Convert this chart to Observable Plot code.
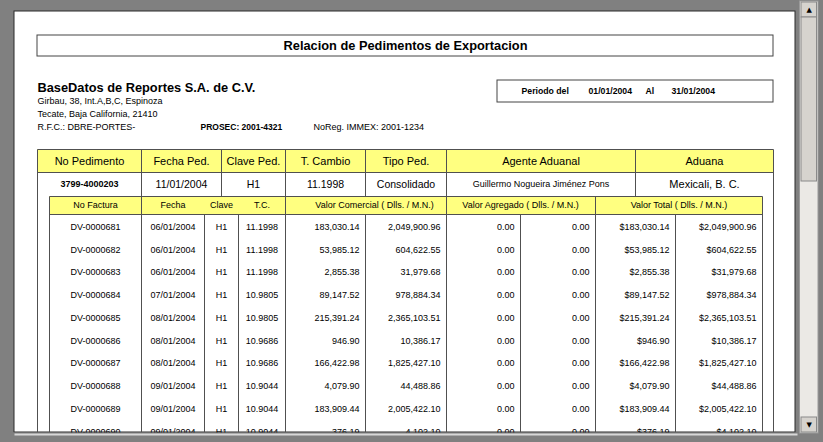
<!DOCTYPE html>
<html><head><meta charset="utf-8">
<script src="https://cdn.jsdelivr.net/npm/d3@7"></script>
<script src="https://cdn.jsdelivr.net/npm/@observablehq/plot@0.6"></script>
<style>
html,body{margin:0;padding:0;background:#808080;overflow:hidden}
#chart svg{display:block}
</style></head><body><div id="chart"></div>
<script>
// ---------------- DATA ----------------
const reportTitle = "Relacion de Pedimentos de Exportacion";
const companyName = "BaseDatos de Reportes S.A. de C.V.";
const companyLines = ["Girbau, 38, Int.A,B,C, Espinoza", "Tecate, Baja California, 21410", "R.F.C.: DBRE-PORTES-"];
const prosec = "PROSEC: 2001-4321";
const noReg = "NoReg. IMMEX: 2001-1234";
const periodo = ["Periodo del", "01/01/2004", "Al", "31/01/2004"];
const pedHeaders = ["No Pedimento", "Fecha Ped.", "Clave Ped.", "T. Cambio", "Tipo Ped.", "Agente Aduanal", "Aduana"];
const pedValues = ["3799-4000203", "11/01/2004", "H1", "11.1998", "Consolidado", "Guillermo Nogueira Jiménez Pons", "Mexicali, B. C."];
const facHeaders = ["No Factura", "Fecha", "Clave", "T.C.", "Valor Comercial ( Dlls. / M.N.)", "Valor Agregado ( Dlls. / M.N.)", "Valor Total ( Dlls. / M.N.)"];
const facturas = ["DV-0000681","DV-0000682","DV-0000683","DV-0000684","DV-0000685","DV-0000686","DV-0000687","DV-0000688","DV-0000689","DV-0000690"];
const fechas = ["06/01/2004","06/01/2004","06/01/2004","07/01/2004","08/01/2004","08/01/2004","08/01/2004","09/01/2004","09/01/2004","09/01/2004"];
const claves = ["H1","H1","H1","H1","H1","H1","H1","H1","H1","H1"];
const tiposCambio = [11.1998, 11.1998, 11.1998, 10.9805, 10.9805, 10.9686, 10.9686, 10.9044, 10.9044, 10.9044];
const comercialDlls = [183030.14, 53985.12, 2855.38, 89147.52, 215391.24, 946.90, 166422.98, 4079.90, 183909.44, 376.19];
const comercialMN = [2049900.96, 604622.55, 31979.68, 978884.34, 2365103.51, 10386.17, 1825427.10, 44488.86, 2005422.10, 4102.10];
const agregadoDlls = [0, 0, 0, 0, 0, 0, 0, 0, 0, 0];
const agregadoMN = [0, 0, 0, 0, 0, 0, 0, 0, 0, 0];
const totalDlls = [183030.14, 53985.12, 2855.38, 89147.52, 215391.24, 946.90, 166422.98, 4079.90, 183909.44, 376.19];
const totalMN = [2049900.96, 604622.55, 31979.68, 978884.34, 2365103.51, 10386.17, 1825427.10, 44488.86, 2005422.10, 4102.10];

// ---------------- LAYOUT ----------------
const W = 823, H = 442;
const FONT = "'Liberation Sans', Arial, sans-serif";
const page = {x1: 14, x2: 795, y1: 11, y2: 432};
const titleBox = {x1: 37, x2: 773, y1: 35, y2: 56};
const periodBox = {x1: 497, x2: 773, y1: 80, y2: 102};
const periodX = [521, 588, 645, 671];
const companyY = 87, infoY0 = 101, infoDy = 13;
const prosecX = 200, noRegX = 313;
const pedCols = [37, 141, 221, 285, 365, 446, 635, 773];
const pedRows = [149, 172, 196];
const pedValueSize = [9, 10.5, 10.5, 10.5, 10.5, 9, 11];
const facCols = [49, 141, 204, 238, 285, 365, 446, 520, 595, 675, 762];
const facHeadCx = [95, 172.5, 221, 261.5, 374, 520, 678.5];
const facHead = {y1: 196, y2: 214};
const rowTop = 215, rowH = 22.75;
const LINE = "#505050";
const yellow = "#ffff80";

const fmt = d3.format(",.2f");
const rowY = i => rowTop + rowH * (i + 0.5);

// line segments
const segs = [];
const V = (x, y1, y2) => segs.push({x1: x, x2: x, y1, y2});
const Hs = (y, x1, x2) => segs.push({x1, x2, y1: y, y2: y});
[pedCols[0], pedCols[pedCols.length - 1]].forEach(x => V(x, pedRows[0], page.y2));
pedCols.slice(1, -1).forEach(x => V(x, pedRows[0], pedRows[2]));
pedRows.slice(0, 2).forEach(y => Hs(y, pedCols[0], pedCols[pedCols.length - 1]));
[facHead.y1, facHead.y2].forEach(y => Hs(y, facCols[0], facCols[facCols.length - 1]));
[0, 1, 4, 6, 8, 10].forEach(k => V(facCols[k], facHead.y1, page.y2));
[2, 3, 5, 7, 9].forEach(k => V(facCols[k], facHead.y2, page.y2));

// invoice cells
const idx = d3.range(facturas.length);
const centerCols = [
  {c: 0, v: i => facturas[i]},
  {c: 1, v: i => fechas[i]},
  {c: 2, v: i => claves[i]},
  {c: 3, v: i => tiposCambio[i].toFixed(4)}
];
const rightCols = [
  {c: 4, v: i => fmt(comercialDlls[i])},
  {c: 5, v: i => fmt(comercialMN[i])},
  {c: 6, v: i => fmt(agregadoDlls[i])},
  {c: 7, v: i => fmt(agregadoMN[i])},
  {c: 8, v: i => "$" + fmt(totalDlls[i])},
  {c: 9, v: i => "$" + fmt(totalMN[i])}
];
const centerCells = centerCols.flatMap(col => idx.map(i => ({x: (facCols[col.c] + facCols[col.c + 1]) / 2, y: rowY(i), t: col.v(i)})));
const rightCells = rightCols.flatMap(col => idx.map(i => ({x: facCols[col.c + 1] - 6, y: rowY(i), t: col.v(i)})));

const one = [0];
const txt = (data, o) => Plot.text(data, {fontFamily: FONT, fill: "#000", ...o});

const chart = Plot.plot({
  width: W, height: H, margin: 0,
  x: {domain: [0, W], range: [0, W], axis: null},
  y: {domain: [0, H], range: [0, H], axis: null},
  style: {background: "#808080", fontFamily: FONT},
  marks: [
    // page
    Plot.rect(one, {x1: () => page.x1, x2: () => page.x2, y1: () => page.y1, y2: () => page.y2, fill: "#fff", stroke: "#2a2a2a", strokeWidth: 1}),
    // title box
    Plot.rect(one, {x1: () => titleBox.x1, x2: () => titleBox.x2, y1: () => titleBox.y1, y2: () => titleBox.y2, fill: "none", stroke: "#444"}),
    txt([reportTitle], {x: () => (titleBox.x1 + titleBox.x2) / 2, y: () => (titleBox.y1 + titleBox.y2) / 2, text: d => d, fontWeight: "bold", fontSize: 12.8}),
    // company block
    txt([companyName], {x: () => titleBox.x1, y: () => companyY, text: d => d, textAnchor: "start", fontWeight: "bold", fontSize: 12.8}),
    txt(companyLines, {x: () => titleBox.x1, y: (d, i) => infoY0 + infoDy * i, text: d => d, textAnchor: "start", fontSize: 9}),
    txt([prosec], {x: () => prosecX, y: () => infoY0 + infoDy * 2, text: d => d, textAnchor: "start", fontWeight: "bold", fontSize: 8.5}),
    txt([noReg], {x: () => noRegX, y: () => infoY0 + infoDy * 2, text: d => d, textAnchor: "start", fontSize: 9}),
    // periodo
    Plot.rect(one, {x1: () => periodBox.x1, x2: () => periodBox.x2, y1: () => periodBox.y1, y2: () => periodBox.y2, fill: "none", stroke: "#444"}),
    txt(periodo, {x: (d, i) => periodX[i], y: () => (periodBox.y1 + periodBox.y2) / 2, text: d => d, textAnchor: "start", fontWeight: "bold", fontSize: 8.7}),
    // yellow header bands
    Plot.rect(one, {x1: () => pedCols[0], x2: () => pedCols[pedCols.length - 1], y1: () => pedRows[0], y2: () => pedRows[1], fill: yellow}),
    Plot.rect(one, {x1: () => facCols[0], x2: () => facCols[facCols.length - 1], y1: () => facHead.y1, y2: () => facHead.y2, fill: yellow}),
    // white under second row cells (inner table covers part)
    // grid lines
    Plot.link(segs, {x1: "x1", y1: "y1", x2: "x2", y2: "y2", stroke: LINE, strokeWidth: 1}),
    // pedimento header + values
    txt(pedHeaders, {x: (d, i) => (pedCols[i] + pedCols[i + 1]) / 2, y: () => (pedRows[0] + pedRows[1]) / 2, text: d => d, fontSize: 11}),
    txt(pedValues.slice(0, 1), {x: () => (pedCols[0] + pedCols[1]) / 2, y: () => (pedRows[1] + pedRows[2]) / 2, text: d => d, fontSize: 9, fontWeight: "bold"}),
    ...pedValues.slice(1).map((v, k) => txt([v], {x: () => (pedCols[k + 1] + pedCols[k + 2]) / 2, y: () => (pedRows[1] + pedRows[2]) / 2, text: d => d, fontSize: pedValueSize[k + 1]})),
    // invoice header
    txt(facHeaders, {x: (d, i) => facHeadCx[i], y: () => (facHead.y1 + facHead.y2) / 2, text: d => d, fontSize: 9}),
    // invoice rows
    txt(centerCells, {x: "x", y: "y", text: "t", fontSize: 9}),
    txt(rightCells, {x: "x", y: "y", text: "t", fontSize: 9, textAnchor: "end"}),
    // bottom frame covering overflow
    Plot.rect(one, {x1: () => 0, x2: () => W, y1: () => page.y2 + 0.5, y2: () => H, fill: "#808080"}),
    Plot.link(one, {x1: () => page.x1, x2: () => page.x2 + 2, y1: () => page.y2 + 2, y2: () => page.y2 + 2, stroke: "#d8d8d8", strokeWidth: 2}),
    // scrollbar
    Plot.rect(one, {x1: () => 799.5, x2: () => 818, y1: () => 1, y2: () => 433, fill: "#ebe9e5", stroke: "#9a9a9a"}),
    Plot.rect([[2, 17], [17, 181], [417, 432]], {x1: () => 801, x2: () => 816.5, y1: d => d[0], y2: d => d[1], fill: "#d6d3ce", stroke: "#8a8a8a"}),
    txt(["▲", "▼"], {x: () => 808.7, y: (d, i) => i ? 424.5 : 9.5, text: d => d, fontSize: 7, fontFamily: "DejaVu Sans"})
  ]
});
document.getElementById("chart").appendChild(chart);
</script>
</body></html>
